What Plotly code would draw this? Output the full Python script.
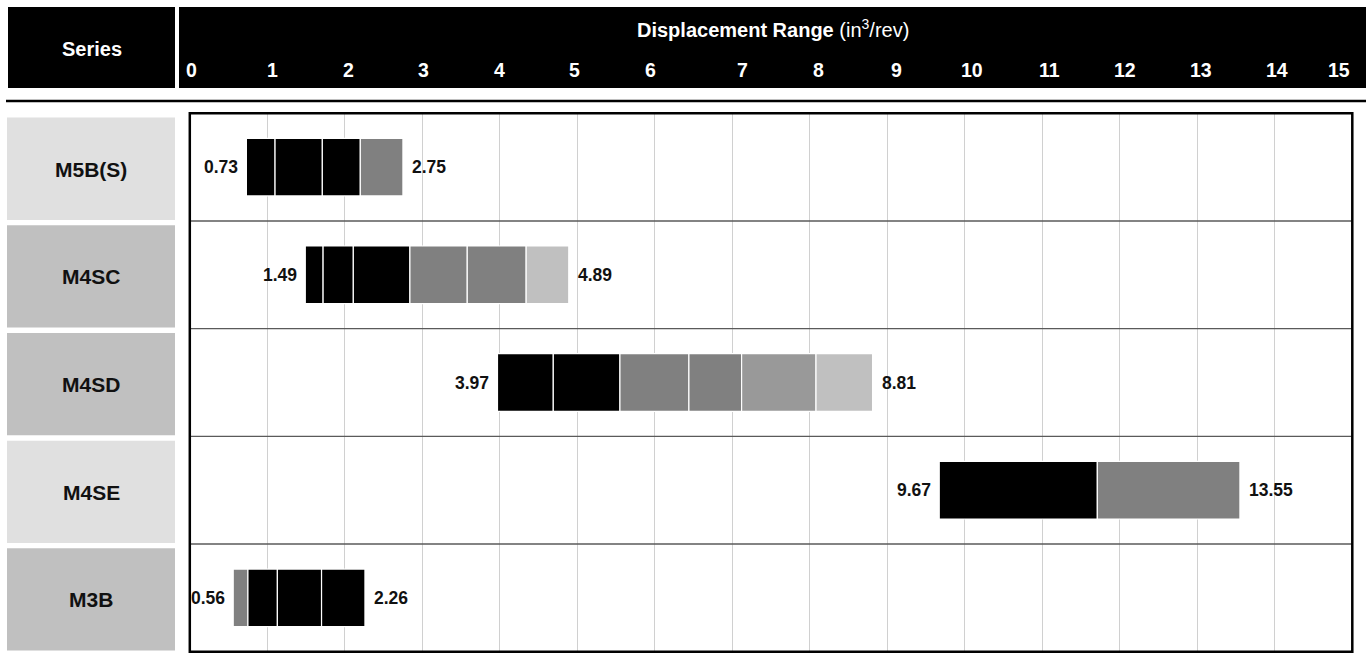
import plotly.graph_objects as go

W, H = 1368, 659

# ---------------- data ----------------
series = ["M5B(S)", "M4SC", "M4SD", "M4SE", "M3B"]
series_fill = ["#e0e0e0", "#c0c0c0", "#c0c0c0", "#e0e0e0", "#c0c0c0"]
range_min = [0.73, 1.49, 3.97, 9.67, 0.56]
range_max = [2.75, 4.89, 8.81, 13.55, 2.26]
x_ticks = list(range(0, 16))
x_tick_labels = [str(t) for t in x_ticks]

# segment breakpoints for each series (in^3/rev) and segment shades
seg_m5bs = [0.73, 1.10, 1.71, 2.20, 2.75]
col_m5bs = ["#000000", "#000000", "#000000", "#808080"]
seg_m4sc = [1.49, 1.72, 2.11, 2.84, 3.58, 4.34, 4.89]
col_m4sc = ["#000000", "#000000", "#000000", "#808080", "#808080", "#c0c0c0"]
seg_m4sd = [3.97, 4.69, 5.55, 6.44, 7.12, 8.08, 8.81]
col_m4sd = ["#000000", "#000000", "#808080", "#808080", "#999999", "#c0c0c0"]
seg_m4se = [9.67, 11.71, 13.55]
col_m4se = ["#000000", "#808080"]
seg_m3b = [0.56, 0.75, 1.13, 1.70, 2.26]
col_m3b = ["#808080", "#000000", "#000000", "#000000"]

segments = [seg_m5bs, seg_m4sc, seg_m4sd, seg_m4se, seg_m3b]
seg_colors = [col_m5bs, col_m4sc, col_m4sd, col_m4se, col_m3b]

# header tick labels in the original are hand-placed: small pixel nudges
tick_nudge_px = [2, 5, 4, 1.5, 0, -3, -4, 10, 9, 9.5, 7, 7, 5, 4, 2, -13]

# ---------------- build ----------------
ys, bases, widths, colors = [], [], [], []
for name, pts, cols in zip(series, segments, seg_colors):
    for a, b, c in zip(pts[:-1], pts[1:], cols):
        ys.append(name)
        bases.append(a)
        widths.append(b - a)
        colors.append(c)

FONT = "Liberation Sans, Arial, Helvetica, sans-serif"

fig = go.Figure()
fig.add_trace(go.Bar(
    orientation="h", y=ys, x=widths, base=bases,
    marker=dict(color=colors, line=dict(color="white", width=1.2)),
    width=0.535, hoverinfo="skip", showlegend=False,
))


def px(x):
    return x / W


def py(y):
    return 1 - y / H


shapes = [
    # header blocks
    dict(type="rect", xref="paper", yref="paper", x0=px(8), x1=px(175), y0=py(88), y1=py(7),
         fillcolor="black", line=dict(width=0), layer="below"),
    dict(type="rect", xref="paper", yref="paper", x0=px(179), x1=px(1366), y0=py(88), y1=py(7),
         fillcolor="black", line=dict(width=0), layer="below"),
    # rule under header
    dict(type="line", xref="paper", yref="paper", x0=px(6), x1=px(1366), y0=py(101), y1=py(101),
         line=dict(color="black", width=2.5)),
]
# series label boxes
for i, (name, fc) in enumerate(zip(series, series_fill)):
    shapes.append(dict(type="rect", xref="paper", yref="y", x0=px(7), x1=px(175),
                       y0=i - 0.5 + 0.04, y1=i + 0.5 - 0.01,
                       fillcolor=fc, line=dict(width=0), layer="below"))
# row separators
for i in range(len(series) - 1):
    shapes.append(dict(type="line", xref="x domain", yref="y", x0=0, x1=1, y0=i + 0.5, y1=i + 0.5,
                       line=dict(color="#5a5a5a", width=1.3), layer="above"))
# plot frame
shapes.append(dict(type="rect", xref="x domain", yref="y domain", x0=0, x1=1, y0=0, y1=1,
                   line=dict(color="black", width=2.5), layer="above"))

annotations = [
    dict(text="<b>Series</b>", x=px(91.5), y=py(48.5), xref="paper", yref="paper",
         xanchor="center", yanchor="middle",
         showarrow=False, font=dict(family=FONT, size=20, color="white")),
    dict(text="<b>Displacement Range</b> (in<sup>3</sup>/rev)", x=px(773), y=py(28.5),
         xref="paper", yref="paper", xanchor="center", yanchor="middle", showarrow=False,
         font=dict(family=FONT, size=20, color="white")),
]
# header tick labels, placed on the x scale
for t, lab, nudge in zip(x_ticks, x_tick_labels, tick_nudge_px):
    annotations.append(dict(text="<b>%s</b>" % lab, x=t, xref="x", y=py(69.5), yref="paper",
                            xanchor="center", yanchor="middle", xshift=nudge, showarrow=False,
                            font=dict(family=FONT, size=19.5, color="white")))
for name in series:
    annotations.append(dict(text="<b>%s</b>" % name, x=px(91), y=name, xref="paper", yref="y",
                            xanchor="center", yanchor="middle",
                            yshift=-2, showarrow=False,
                            font=dict(family=FONT, size=21, color="#111111")))
for name, lo, hi in zip(series, range_min, range_max):
    annotations.append(dict(text="<b>%.2f</b>" % lo, x=lo, y=name, xref="x", yref="y",
                            xanchor="right", yanchor="middle", xshift=-6, showarrow=False,
                            font=dict(family=FONT, size=17.5, color="#111111")))
    annotations.append(dict(text="<b>%.2f</b>" % hi, x=hi, y=name, xref="x", yref="y",
                            xanchor="left", yanchor="middle", xshift=7, showarrow=False,
                            font=dict(family=FONT, size=17.5, color="#111111")))

fig.update_layout(
    width=W, height=H, autosize=False,
    margin=dict(l=0, r=0, t=0, b=0),
    paper_bgcolor="white", plot_bgcolor="white",
    barmode="overlay",
    shapes=shapes, annotations=annotations,
    xaxis=dict(range=[0, 15], domain=[px(189.8), px(1352.3)], side="top",
               tickmode="array", tickvals=x_ticks, showticklabels=False,
               showgrid=True, gridcolor="#d0d0d0", gridwidth=1, zeroline=False,
               showline=False, ticks="", fixedrange=True),
    yaxis=dict(type="category", categoryorder="array", categoryarray=series,
               range=[len(series) - 0.5, -0.5], domain=[py(651.7), py(113.3)],
               showticklabels=False, showgrid=False, zeroline=False, showline=False,
               fixedrange=True),
    font=dict(family=FONT),
)

post = (
    "document.documentElement.style.overflow='hidden';"
    "document.body.style.margin='0';document.body.style.overflow='hidden';"
)

fig.write_html(
    "out.html",
    config={"displayModeBar": False, "responsive": False},
    post_script=post,
)
